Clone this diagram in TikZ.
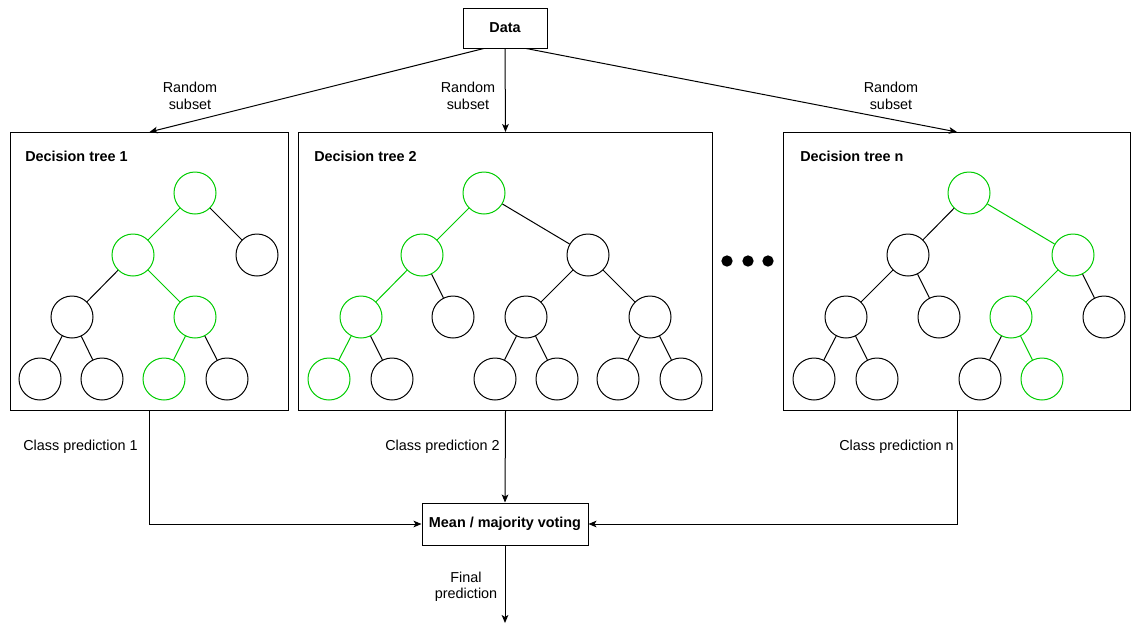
\documentclass[tikz,border=0pt]{standalone}
\usepackage{fontspec}
\setmainfont{Liberation Sans}
\usetikzlibrary{arrows.meta,calc}
\definecolor{pathgreen}{RGB}{0,204,0}
\newcommand{\labelfont}{\fontsize{10.8}{12.3}\selectfont}
\begin{document}
\begin{tikzpicture}[x=0.75pt,y=-0.75pt,
  every node/.style={font=\labelfont},
  treebox/.style={draw, line width=0.75pt, anchor=north west, minimum height=208.5pt, inner sep=0},
  box/.style={draw, line width=0.75pt, font=\labelfont\bfseries, inner sep=0},
  title/.style={anchor=west, font=\labelfont\bfseries, inner sep=0},
  tnode/.style={circle, draw, line width=0.75pt, minimum size=31.5pt, inner sep=0},
  hot/.style={draw=pathgreen},
  link/.style={line width=0.75pt},
  hotlink/.style={line width=0.75pt, draw=pathgreen},
  flow/.style={line width=0.75pt, -{Stealth[length=6pt,width=5pt,inset=1.5pt]}},
  caption/.style={align=center, inner sep=0},
  dot/.style={circle, fill=black, minimum size=8.5pt, inner sep=0}
]
\useasboundingbox (0,0) rectangle (1131,626);

% source and aggregation boxes
\node[box, minimum width=63pt, minimum height=30pt] (data) at (505,28) {Data};
\node[box, minimum width=124.5pt, minimum height=31.5pt] (vote) at (505,524) {Mean / majority voting};

% tree frames
\node[treebox, minimum width=208.5pt] (box1) at (10,132) {};
\node[treebox, minimum width=310.5pt] (box2) at (298,132) {};
\node[treebox, minimum width=260.25pt] (boxn) at (783,132) {};
\node[title] at (25,156) {Decision tree 1};
\node[title] at (314,156) {Decision tree 2};
\node[title] at (800,156) {Decision tree n};

% tree 1
\node[tnode, hot] (a0) at (195,193) {};
\node[tnode, hot] (a1) at (133,255) {};
\node[tnode] (a2) at (257,255) {};
\node[tnode] (a3) at (72,317) {};
\node[tnode, hot] (a4) at (195,317) {};
\node[tnode] (a5) at (40,379) {};
\node[tnode] (a6) at (102,379) {};
\node[tnode, hot] (a7) at (164,379) {};
\node[tnode] (a8) at (227,379) {};
\draw[hotlink] (a0) -- (a1);
\draw[link] (a0) -- (a2);
\draw[link] (a1) -- (a3);
\draw[hotlink] (a1) -- (a4);
\draw[link] (a3) -- (a5);
\draw[link] (a3) -- (a6);
\draw[hotlink] (a4) -- (a7);
\draw[link] (a4) -- (a8);

% tree 2
\node[tnode, hot] (b0) at (484,193) {};
\node[tnode, hot] (b1) at (422,255) {};
\node[tnode] (b2) at (588,255) {};
\node[tnode, hot] (b3) at (361,317) {};
\node[tnode] (b4) at (453,317) {};
\node[tnode] (b5) at (526,317) {};
\node[tnode] (b6) at (650,317) {};
\node[tnode, hot] (b7) at (329,379) {};
\node[tnode] (b8) at (392,379) {};
\node[tnode] (b9) at (495,379) {};
\node[tnode] (b10) at (557,379) {};
\node[tnode] (b11) at (618,379) {};
\node[tnode] (b12) at (681,379) {};
\draw[hotlink] (b0) -- (b1);
\draw[link] (b0) -- (b2);
\draw[hotlink] (b1) -- (b3);
\draw[link] (b1) -- (b4);
\draw[link] (b2) -- (b5);
\draw[link] (b2) -- (b6);
\draw[hotlink] (b3) -- (b7);
\draw[link] (b3) -- (b8);
\draw[link] (b5) -- (b9);
\draw[link] (b5) -- (b10);
\draw[link] (b6) -- (b11);
\draw[link] (b6) -- (b12);

% tree n
\node[tnode, hot] (c0) at (969,193) {};
\node[tnode] (c1) at (908,255) {};
\node[tnode, hot] (c2) at (1073,255) {};
\node[tnode] (c3) at (846,317) {};
\node[tnode] (c4) at (939,317) {};
\node[tnode, hot] (c5) at (1011,317) {};
\node[tnode] (c6) at (1104,317) {};
\node[tnode] (c7) at (814,379) {};
\node[tnode] (c8) at (877,379) {};
\node[tnode] (c9) at (980,379) {};
\node[tnode, hot] (c10) at (1042,379) {};
\draw[link] (c0) -- (c1);
\draw[hotlink] (c0) -- (c2);
\draw[link] (c1) -- (c3);
\draw[link] (c1) -- (c4);
\draw[hotlink] (c2) -- (c5);
\draw[link] (c2) -- (c6);
\draw[link] (c3) -- (c7);
\draw[link] (c3) -- (c8);
\draw[link] (c5) -- (c9);
\draw[hotlink] (c5) -- (c10);

% ellipsis between trees
\node[dot] (d1) at (727,261) {};
\node[dot] (d2) at (748,261) {};
\node[dot] (d3) at (768,261) {};

% sampling arrows
\draw[flow] ($(data.south west)!0.25!(data.south east)$) -- (box1.north);
\draw[flow] (data.south) -- (box2.north);
\draw[flow] ($(data.south west)!0.75!(data.south east)$) -- (boxn.north);
\node[caption] at (190,96) {Random\\subset};
\node[caption] at (468,96) {Random\\subset};
\node[caption] at (891,96) {Random\\subset};

% predictions into the vote
\draw[flow] (box1.south) |- (vote.west);
\draw[flow] (box2.south) -- (vote.north);
\draw[flow] (boxn.south) |- (vote.east);
\node[anchor=east, inner sep=0] at (138,447) {Class prediction 1};
\node[anchor=east, inner sep=0] at (500,447) {Class prediction 2};
\node[anchor=east, inner sep=0] at (954,447) {Class prediction n};

% final output
\coordinate (out) at (505,623);
\draw[flow] (vote.south) -- (out);
\node[caption] at (466,587) {Final\\prediction};
\end{tikzpicture}
\end{document}
